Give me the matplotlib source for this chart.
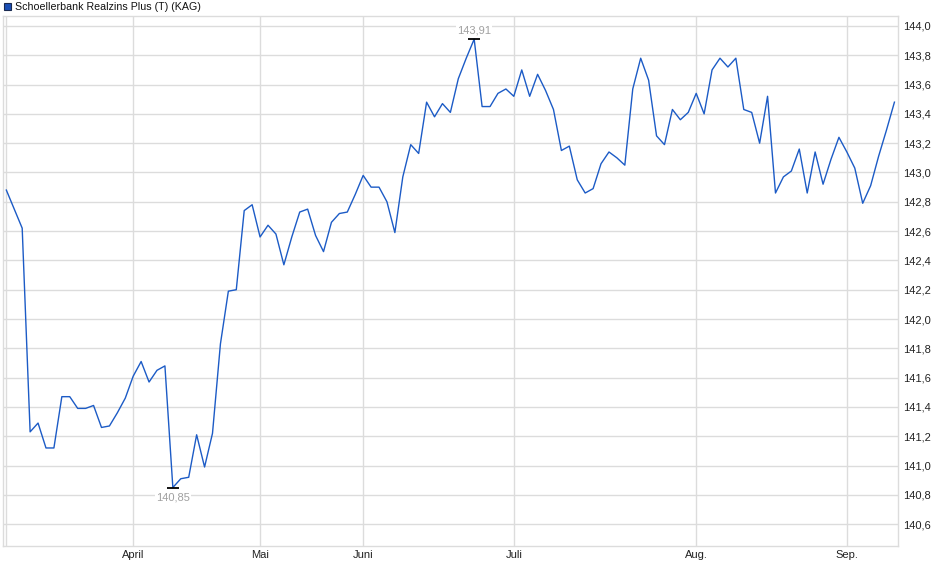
import numpy as np
import matplotlib
matplotlib.use("Agg")
import matplotlib.pyplot as plt
from matplotlib.patches import Rectangle

plt.rcParams['font.family'] = ['Liberation Sans', 'DejaVu Sans']

series_name = "Schoellerbank Realzins Plus (T) (KAG)"

values = [
    142.88, 142.75, 142.62, 141.23, 141.29, 141.12, 141.12, 141.47, 141.47, 141.39,
    141.39, 141.41, 141.26, 141.27, 141.36, 141.46, 141.61, 141.71, 141.57, 141.65,
    141.68, 140.85, 140.91, 140.92, 141.21, 140.99, 141.22, 141.83, 142.19, 142.20,
    142.74, 142.78, 142.56, 142.64, 142.58, 142.37, 142.56, 142.73, 142.75, 142.57,
    142.46, 142.66, 142.72, 142.73, 142.85, 142.98, 142.90, 142.90, 142.80, 142.59,
    142.97, 143.19, 143.13, 143.48, 143.38, 143.47, 143.41, 143.64, 143.78, 143.91,
    143.45, 143.45, 143.54, 143.57, 143.52, 143.70, 143.52, 143.67, 143.56, 143.43,
    143.15, 143.18, 142.95, 142.86, 142.89, 143.06, 143.14, 143.10, 143.05, 143.57,
    143.78, 143.63, 143.25, 143.19, 143.43, 143.36, 143.41, 143.54, 143.40, 143.70,
    143.78, 143.72, 143.78, 143.43, 143.41, 143.20, 143.52, 142.86, 142.97, 143.01,
    143.16, 142.86, 143.14, 142.92, 143.09, 143.24, 143.14, 143.03, 142.79, 142.91,
    143.11, 143.29, 143.48,
]

month_labels = ["April", "Mai", "Juni", "Juli", "Aug.", "Sep."]
month_start_index = [16, 32, 45, 64, 87, 106]

y_ticks = [140.6, 140.8, 141.0, 141.2, 141.4, 141.6, 141.8, 142.0, 142.2,
           142.4, 142.6, 142.8, 143.0, 143.2, 143.4, 143.6, 143.8, 144.0]

W, H = 940, 579
fig = plt.figure(figsize=(W / 100, H / 100), dpi=100)
left, right, top, bottom = 3, 898, 16, 545.7
ax = fig.add_axes([left / W, (H - bottom) / H, (right - left) / W, (bottom - top) / H])

grid_c = '#dcdcdc'
x = np.arange(len(values))
vals = np.array(values)

ax.set_xlim(-0.42, 112.45)
ax.set_ylim(140.453, 144.068)

for t in y_ticks:
    ax.axhline(t, color=grid_c, lw=1.0, zorder=0)
for m in month_start_index:
    ax.axvline(m, color=grid_c, lw=1.0, zorder=0)
ax.axvline(-0.05, color=grid_c, lw=1.0, zorder=0)

ax.plot(x, vals, color='#1c5bc6', lw=1.0, zorder=3)

# max / min markers
imax = int(np.argmax(vals))
imin = int(np.argmin(vals))
for i, off in ((imax, 6.0), (imin, -7.3)):
    ax.plot([i], [vals[i]], marker='_', ms=9, mew=1.3, color='black', zorder=4)
    ax.annotate(f"{vals[i]:.2f}".replace('.', ','), (i, vals[i]),
                xytext=(0, off), textcoords='offset points',
                ha='center', va='center', fontsize=8, color='#a0a0a0',
                bbox=dict(boxstyle='square,pad=0.1', fc='white', ec='none'),
                zorder=5)

ax.yaxis.tick_right()
ax.set_yticks(y_ticks)
ax.set_yticklabels([f"{t:.1f}".replace('.', ',') for t in y_ticks])
ax.set_xticks(month_start_index)
ax.set_xticklabels(month_labels)
ax.tick_params(axis='both', length=0, labelsize=8, colors='#222222')
ax.tick_params(axis='y', pad=4)
ax.tick_params(axis='x', pad=3)

for s in ax.spines.values():
    s.set_color(grid_c)
    s.set_linewidth(1.0)

# legend
fig.patches.append(Rectangle((4 / W, (H - 10) / H), 7 / W, 7 / H,
                             transform=fig.transFigure, fc='#1a4fb5', ec='#1a2a50', lw=0.8))
fig.text(15 / W, (H - 6.5) / H, series_name, fontsize=7.7, va='center', ha='left', color='#111111')

fig.savefig("out.png", dpi=100)
